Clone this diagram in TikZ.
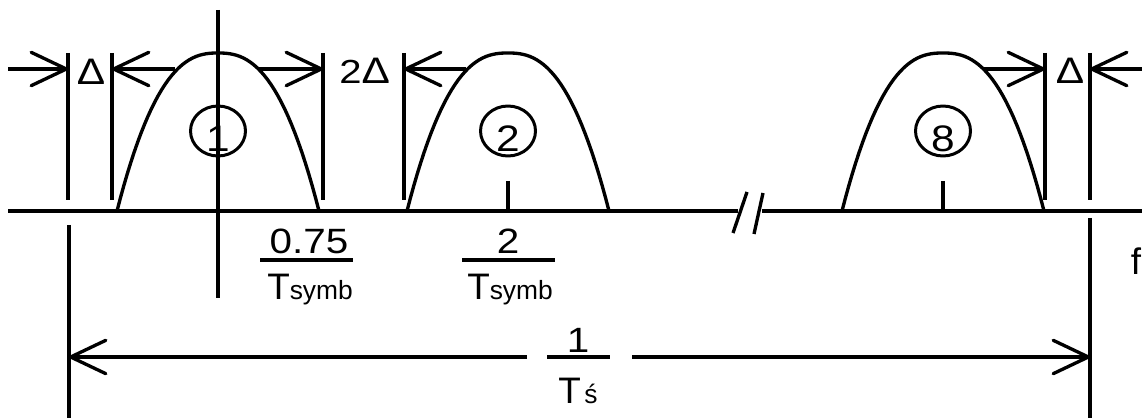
\documentclass[tikz,border=0pt]{standalone}
\usepackage{graphicx}
\usepackage{fontspec}
\setmainfont{Liberation Sans}
\usetikzlibrary{arrows.meta, shapes.geometric}

\newcommand{\smallsub}[1]{{\fontsize{15}{17}\selectfont #1}}
\newcommand{\wide}[1]{\scalebox{1.15}[1]{#1}}

\begin{document}
\begin{tikzpicture}[
    x=0.02cm, y=-0.02cm,
    line/.style={line width=1.9pt},
    dim/.style={line width=1.9pt, -{Straight Barb[length=20pt, width=19pt, round]}},
    pulse/.style={line width=1.9pt, line join=round},
    ring/.style={ellipse, draw, line width=1.7pt, minimum width=1.1cm, minimum height=1.0cm, inner sep=0pt},
    lbl/.style={inner sep=0pt, font=\fontsize{21}{24}\selectfont},
    digit/.style={inner sep=0pt, font=\fontsize{20}{24}\selectfont},
    delta/.style={inner sep=0pt, font=\fontsize{21}{24}\selectfont}
]
    \useasboundingbox (0,0) rectangle (1142,418);

    % frequency axis with break
    \coordinate (ax0) at (8,211);
    \coordinate (axb1) at (738,211);
    \coordinate (axb2) at (762,211);
    \coordinate (ax1) at (1142,211);
    \draw[line] (ax0) -- (axb1);
    \draw[line] (axb2) -- (ax1);
    \draw[line] (733,233) -- (747,192);
    \draw[line] (754,234) -- (763,193);

    % centre line of the first pulse
    \coordinate (cl0) at (218,10);
    \coordinate (cl1) at (218,298);
    \draw[line] (cl0) -- (cl1);

    % pulses with their numbers
    \foreach \cx/\k in {218/1, 508/2, 943/8} {
        \draw[pulse] plot[domain=-1:1, samples=60] ({\cx+101*\x}, {211-158*(1-abs(\x)^2.5)});
        \node[ring] (c\k) at (\cx,131) {};
        \node[digit, font=\fontsize{21}{24}\selectfont, anchor=base] (k\k) at (\cx,152) {\wide{\k}};
    }
    \draw[line] (508,181) -- (508,211);
    \draw[line] (943,181) -- (943,211);

    % dimension lines above the axis
    \foreach \vx/\nm in {68/a, 112/b, 323/c, 404/d, 1045/e, 1090/g} {
        \coordinate (top-\nm) at (\vx,53);
        \coordinate (bot-\nm) at (\vx,200);
        \coordinate (tip-\nm) at (\vx,69);
        \draw[line] (top-\nm) -- (bot-\nm);
    }
    \coordinate (start-a) at (8,69);
    \coordinate (start-b) at (175,69);
    \coordinate (start-c) at (258,69);
    \coordinate (start-d) at (466,69);
    \coordinate (start-e) at (983,69);
    \coordinate (start-g) at (1142,69);
    \foreach \nm in {a,b,c,d,e,g}
        \draw[dim] (start-\nm) -- (tip-\nm);

    \node[delta, anchor=base] (dl) at (91,85) {\wide{Δ}};
    \node[delta, anchor=base west] (dm) at (339,84) {\scalebox{1.2}[1]{\fontsize{19}{22}\selectfont 2}\wide{Δ}};
    \node[delta, anchor=base] (dr) at (1070,84) {\wide{Δ}};

    % span 1/T's below the axis
    \coordinate (sl0) at (69,225);
    \coordinate (sl1) at (69,418);
    \coordinate (sr0) at (1090,218);
    \coordinate (sr1) at (1090,418);
    \draw[line] (sl0) -- (sl1);
    \draw[line] (sr0) -- (sr1);
    \coordinate (spl) at (69,357);
    \coordinate (spr) at (1090,357);
    \coordinate (gapl) at (527,357);
    \coordinate (gapr) at (632,357);
    \draw[dim] (gapl) -- (spl);
    \draw[dim] (gapr) -- (spr);

    % frequency labels
    \node[digit, anchor=base] (q1n) at (309,254) {\wide{0.75}};
    \draw[line] (260,260) -- (353,260);
    \node[lbl, anchor=base] (q1d) at (310,300) {T\smallsub{symb}};

    \node[digit, anchor=base] (q2n) at (508,254) {\wide{2}};
    \draw[line] (462,260) -- (555,260);
    \node[lbl, anchor=base] (q2d) at (510,300) {T\smallsub{symb}};

    \node[digit, anchor=base] (sn) at (578,353) {\wide{1}};
    \draw[line] (547,357) -- (610,357);
    \node[lbl, anchor=base] (sd) at (578,403) {T\kern2pt{\fontsize{15}{17}\selectfont ś}};

    \node[lbl, anchor=base] (fl) at (1136,275) {f};
\end{tikzpicture}
\end{document}
